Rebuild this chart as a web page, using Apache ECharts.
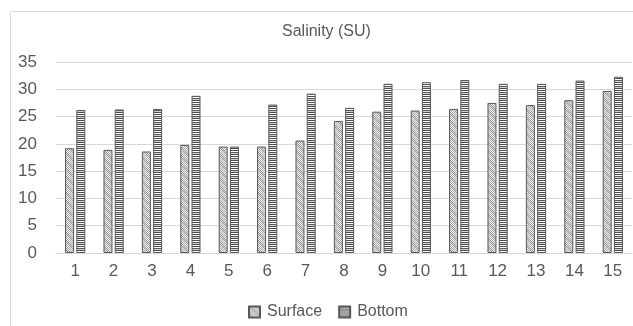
<!DOCTYPE html>
<html>
<head>
<meta charset="utf-8">
<script src="https://cdn.jsdelivr.net/npm/echarts@6/dist/echarts.min.js"></script>
<style>
html,body{margin:0;padding:0;background:#fff;}
#chart{width:633px;height:326px;}
</style>
</head>
<body>
<div id="chart"></div>
<script>
const categories = ['1','2','3','4','5','6','7','8','9','10','11','12','13','14','15'];
const surface = [19.2, 18.9, 18.6, 19.8, 19.5, 19.5, 20.6, 24.2, 25.9, 26.1, 26.4, 27.5, 27.1, 28.0, 29.7];
const bottom  = [26.2, 26.3, 26.4, 28.8, 19.5, 27.2, 29.2, 26.6, 31.0, 31.3, 31.7, 31.0, 31.0, 31.6, 32.3];
const yTicks = [0, 5, 10, 15, 20, 25, 30, 35];
const FONT = 'Liberation Sans';
const TXT = '#595959';

function makeSurfacePattern() {
  const c = document.createElement('canvas');
  c.width = 8; c.height = 8;
  const ctx = c.getContext('2d');
  for (let y = 0; y < 8; y++) {
    for (let x = 0; x < 8; x++) {
      const diag = ((x - y + 8) % 8) < 3;
      const chk = (x + y) % 2 === 0;
      let col;
      if (chk) col = diag ? '#9a9a9a' : '#adadad';
      else col = diag ? '#d2d2d2' : '#ececec';
      ctx.fillStyle = col;
      ctx.fillRect(x, y, 1, 1);
    }
  }
  return c;
}
function makeBottomPattern() {
  const c = document.createElement('canvas');
  c.width = 4; c.height = 6;
  const ctx = c.getContext('2d');
  const rows = ['#4d4d4d', '#ffffff', '#5a5a5a', '#d0d0d0', '#4d4d4d', '#ffffff'];
  rows.forEach((col, i) => { ctx.fillStyle = col; ctx.fillRect(0, i, 4, 1); });
  return c;
}
const surfPat = { image: makeSurfacePattern(), repeat: 'repeat' };
const botPat = { image: makeBottomPattern(), repeat: 'repeat' };

const chart = echarts.init(document.getElementById('chart'), null, { renderer: 'canvas' });
chart.setOption({
  animation: false,
  backgroundColor: '#fff',
  title: {
    text: 'Salinity (SU)',
    left: 277, top: 19,
    textStyle: { fontFamily: FONT, fontSize: 16, fontWeight: 'normal', color: TXT }
  },
  graphic: [{
    type: 'rect', shape: { x: 10.5, y: 11.5, width: 700, height: 400 },
    style: { fill: 'none', stroke: '#d9d9d9', lineWidth: 1 }, silent: true, z: -1
  }],
  legend: {
    left: 243, top: 299,
    itemWidth: 11, itemHeight: 11, itemGap: 16,
    icon: 'rect',
    textStyle: { fontFamily: FONT, fontSize: 16, color: TXT, padding: [0, 0, 0, 2] },
    data: ['Surface', 'Bottom']
  },
  grid: { left: 56, right: 1, top: 62, bottom: 73, containLabel: false },
  xAxis: {
    type: 'category',
    data: categories,
    axisLine: { lineStyle: { color: '#d9d9d9' } },
    axisTick: { show: false },
    axisLabel: { fontFamily: FONT, fontSize: 17, color: TXT, margin: 10 }
  },
  yAxis: {
    type: 'value',
    min: yTicks[0], max: yTicks[yTicks.length - 1], interval: 5,
    axisLine: { show: false },
    axisTick: { show: false },
    splitLine: { lineStyle: { color: '#d9d9d9' } },
    axisLabel: { fontFamily: FONT, fontSize: 17, color: TXT, margin: 19 }
  },
  series: [
    {
      name: 'Surface', type: 'bar', data: surface,
      barWidth: 9, barGap: '25%',
      itemStyle: { color: surfPat, borderColor: '#595959', borderWidth: 1 }
    },
    {
      name: 'Bottom', type: 'bar', data: bottom,
      barWidth: 9,
      itemStyle: { color: botPat, borderColor: '#595959', borderWidth: 1 }
    }
  ]
});
</script>
</body>
</html>
